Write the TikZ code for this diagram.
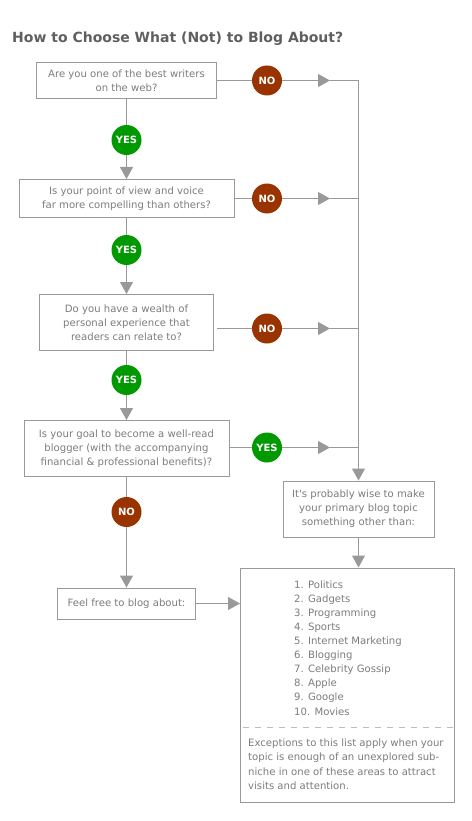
\documentclass[tikz,border=0pt]{standalone}
\usepackage{fontspec}
\setmainfont{DejaVu Sans}
\usetikzlibrary{arrows.meta,calc}
\definecolor{linegray}{HTML}{999999}
\definecolor{dashgray}{HTML}{BBBBBB}
\definecolor{textgray}{HTML}{7D7D7D}
\definecolor{titlegray}{HTML}{5F5F5F}
\definecolor{yesgreen}{HTML}{009900}
\definecolor{nored}{HTML}{993300}
\tikzset{
  qbox/.style={draw=linegray,line width=1pt,fill=white,inner sep=0pt,align=center,
    text=textgray,font=\fontsize{10.1}{14}\selectfont},
  badge/.style={circle,minimum size=30pt,inner sep=0pt,text=white,
    font=\fontsize{10}{12}\bfseries\selectfont},
  yesbadge/.style={badge,fill=yesgreen},
  nobadge/.style={badge,fill=nored},
  conn/.style={draw=linegray,line width=1pt},
  arr/.style={conn,-{Triangle[length=12pt,width=13pt,color=linegray]}}
}
\begin{document}
\begin{tikzpicture}[x=1pt,y=-1pt]
  \useasboundingbox (0,0) rectangle (471,821);
  \node[anchor=base west,inner sep=0pt,text=titlegray,font=\fontsize{14}{16}\bfseries\selectfont] (title) at (12,43)
    {How to Choose What (Not) to Blog About?};
  % question boxes
  \node[qbox,minimum width=180pt,minimum height=36pt] (write) at (126.5,80.5)
    {Are you one of the best writers\\on the web?};
  \node[qbox,minimum width=215pt,minimum height=38pt] (voice) at (126.5,198.5)
    {Is your point of view and voice\\far more compelling than others?};
  \node[qbox,minimum width=174pt,minimum height=56pt] (exper) at (126.5,322.5)
    {Do you have a wealth of\\personal experience that\\readers can relate to?};
  \node[qbox,minimum width=205pt,minimum height=56pt] (goal) at (126.5,448.5)
    {Is your goal to become a well-read\\blogger (with the accompanying\\financial \& professional benefits)?};
  \node[qbox,minimum width=151pt,minimum height=56pt] (wise) at (358.5,509)
    {It\textquotesingle s probably wise to make\\your primary blog topic\\something other than:};
  \node[qbox,minimum width=138pt,minimum height=31pt] (free) at (126.5,603.5)
    {Feel free to blog about:};
  \node[qbox,minimum width=214pt,minimum height=234pt] (topics) at (347.5,685) {};
  % text inside the list box
  \node[anchor=north west,align=left,inner sep=0pt,text=textgray,
    font=\fontsize{10.1}{14.07}\selectfont] (list) at (294,580.5)
    {1. Politics\\2. Gadgets\\3. Programming\\4. Sports\\5. Internet Marketing\\6. Blogging\\7. Celebrity Gossip\\8. Apple\\9. Google\\10. Movies};
  \node[anchor=north west,align=left,inner sep=0pt,text=textgray,
    font=\fontsize{10.1}{14.07}\selectfont] (except) at (248,739)
    {Exceptions to this list apply when your\\topic is enough of an unexplored sub-\\niche in one of these areas to attract\\visits and attention.};
  \coordinate (sepl) at (243,727.5);
  \coordinate (sepr) at (454,727.5);
  \draw[draw=dashgray,line width=1pt,dash pattern=on 6pt off 6pt] (sepl) -- (sepr);
  % badges
  \foreach \name/\kind/\pos/\txt in {no1/no/{267,80.5}/NO,no2/no/{267,198.5}/NO,no3/no/{267,328.5}/NO,
      yes4/yes/{267,447.5}/YES,yes1/yes/{126.5,140}/YES,yes2/yes/{126.5,250}/YES,
      yes3/yes/{126.5,380}/YES,no4/no/{126.5,512}/NO}{
    \node[\kind badge] (\name) at (\pos) {\txt};}
  % right hand side
  \coordinate (exfree) at (217,328.5);
  \draw[conn] (no1 -| write.east) -- (no1);
  \draw[conn] (no2 -| voice.east) -- (no2);
  \draw[conn] (exfree) -- (no3);
  \draw[conn] (yes4 -| goal.east) -- (yes4);
  \coordinate (top) at (358.5,80.5);
  \foreach \b in {no1,no2,no3,yes4}{
    \coordinate (tip\b) at ($(\b)+(63,0)$);
    \draw[arr] (\b) -- (tip\b);
    \draw[conn] (tip\b) -- (top |- \b);}
  \draw[arr] (top) -- (wise.north);
  \draw[arr] (wise.south) -- (topics.north -| wise.south);
  % left hand column
  \draw[conn] (write) -- (yes1);
  \draw[arr] (yes1) -- (voice.north);
  \draw[conn] (voice) -- (yes2);
  \draw[arr] (yes2) -- (exper.north);
  \draw[conn] (exper) -- (yes3);
  \draw[arr] (yes3) -- (goal.north);
  \draw[conn] (goal) -- (no4);
  \draw[arr] (no4) -- (free.north);
  \draw[arr] (free.east) -- (free.east -| topics.west);
\end{tikzpicture}
\end{document}
